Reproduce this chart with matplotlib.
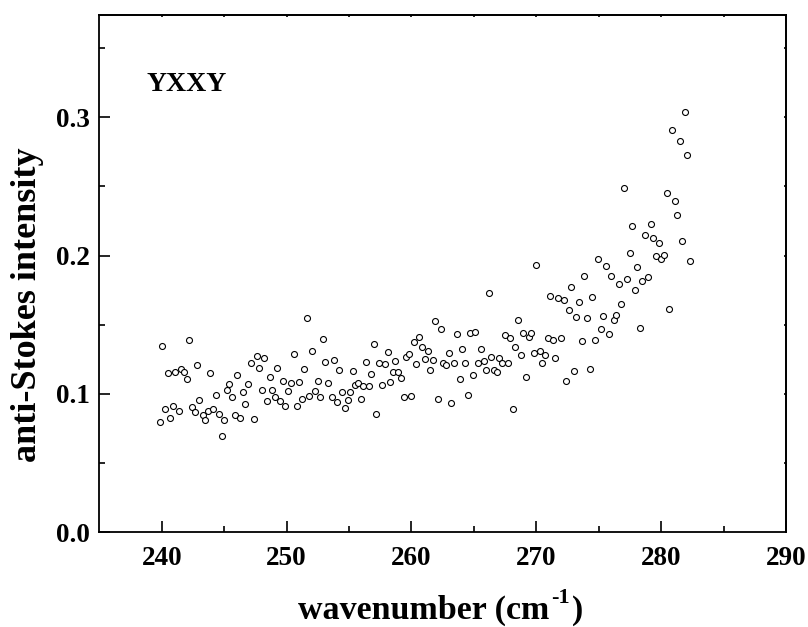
import numpy as np
import matplotlib
matplotlib.use('Agg')
import matplotlib.pyplot as plt

plt.rcParams.update({
    'font.family': ['Liberation Serif', 'DejaVu Serif'],
    'font.weight': 'bold',
})

# wavenumber (cm-1)
wavenumber = [
    239.86, 240.02, 240.24, 240.5, 240.7, 240.93, 241.1, 241.36, 241.55, 241.76,
    242.0, 242.2, 242.43, 242.64, 242.85, 243.0, 243.3, 243.5, 243.7, 243.9,
    244.1, 244.35, 244.6, 244.8, 245.0, 245.2, 245.4, 245.6, 245.85, 246.06,
    246.3, 246.5, 246.7, 246.9, 247.15, 247.4, 247.6, 247.8, 248.0, 248.2,
    248.4, 248.65, 248.86, 249.1, 249.26, 249.5, 249.7, 249.9, 250.14, 250.36,
    250.58, 250.8, 251.0, 251.2, 251.4, 251.64, 251.8, 252.0, 252.3, 252.5,
    252.7, 252.9, 253.1, 253.35, 253.6, 253.8, 254.0, 254.2, 254.45, 254.7,
    254.9, 255.1, 255.3, 255.5, 255.7, 255.95, 256.15, 256.4, 256.6, 256.8,
    257.0, 257.2, 257.4, 257.65, 257.9, 258.1, 258.3, 258.5, 258.7, 258.9,
    259.15, 259.4, 259.6, 259.8, 260.0, 260.2, 260.4, 260.6, 260.86, 261.1,
    261.3, 261.5, 261.7, 261.9, 262.1, 262.36, 262.56, 262.8, 263.0, 263.2,
    263.4, 263.64, 263.85, 264.06, 264.28, 264.5, 264.7, 264.9, 265.1, 265.3,
    265.56, 265.8, 266.0, 266.2, 266.4, 266.6, 266.85, 267.05, 267.27, 267.5,
    267.7, 267.9, 268.1, 268.3, 268.55, 268.76, 268.97, 269.2, 269.4, 269.6,
    269.8, 270.0, 270.26, 270.47, 270.69, 270.9, 271.1, 271.3, 271.5, 271.75,
    271.97, 272.2, 272.4, 272.6, 272.8, 273.0, 273.2, 273.4, 273.65, 273.8,
    274.08, 274.3, 274.5, 274.7, 274.94, 275.15, 275.36, 275.6, 275.8, 276.0,
    276.2, 276.4, 276.6, 276.8, 277.04, 277.26, 277.47, 277.66, 277.9, 278.1,
    278.3, 278.5, 278.7, 278.97, 279.15, 279.36, 279.58, 279.8, 280.0, 280.2,
    280.43, 280.6, 280.83, 281.07, 281.27, 281.47, 281.7, 281.93, 282.1, 282.3,
]

intensity = [
    0.0793, 0.1345, 0.0892, 0.1147, 0.0824, 0.0909, 0.1160, 0.0872, 0.1176, 0.1155,
    0.1106, 0.1390, 0.0902, 0.0868, 0.1207, 0.0954, 0.0848, 0.0808, 0.0877, 0.1150,
    0.0887, 0.0993, 0.0855, 0.0696, 0.0810, 0.1030, 0.1068, 0.0980, 0.0848, 0.1135,
    0.0824, 0.1010, 0.0923, 0.1070, 0.1220, 0.0817, 0.1273, 0.1190, 0.1030, 0.1260,
    0.0947, 0.1123, 0.1030, 0.0976, 0.1190, 0.0947, 0.1090, 0.0910, 0.1020, 0.1077,
    0.1290, 0.0909, 0.1085, 0.0960, 0.1180, 0.1545, 0.0986, 0.1306, 0.1017, 0.1092,
    0.0976, 0.1398, 0.1227, 0.1080, 0.0976, 0.1246, 0.0940, 0.1169, 0.1010, 0.0894,
    0.0957, 0.1010, 0.1164, 0.1060, 0.1080, 0.0964, 0.1053, 0.1229, 0.1053, 0.1142,
    0.1357, 0.0851, 0.1224, 0.1065, 0.1217, 0.1304, 0.1087, 0.1155, 0.1234, 0.1155,
    0.1113, 0.0976, 0.1268, 0.1287, 0.0983, 0.1376, 0.1215, 0.1410, 0.1340, 0.1249,
    0.1309, 0.1171, 0.1244, 0.1526, 0.0960, 0.1466, 0.1220, 0.1208, 0.1294, 0.0935,
    0.1220, 0.1434, 0.1104, 0.1323, 0.1220, 0.0993, 0.1441, 0.1135, 0.1446, 0.1222,
    0.1326, 0.1234, 0.1171, 0.1726, 0.1268, 0.1171, 0.1157, 0.1256, 0.1224, 0.1422,
    0.1224, 0.1405, 0.0889, 0.1338, 0.1535, 0.1280, 0.1441, 0.1123, 0.1412, 0.1441,
    0.1294, 0.1931, 0.1311, 0.1222, 0.1280, 0.1403, 0.1709, 0.1388, 0.1256, 0.1692,
    0.1403, 0.1680, 0.1092, 0.1603, 0.1774, 0.1164, 0.1557, 0.1665, 0.1383, 0.1851,
    0.1545, 0.1176, 0.1702, 0.1390, 0.1974, 0.1470, 0.1564, 0.1921, 0.1432, 0.1853,
    0.1531, 0.1567, 0.1791, 0.1650, 0.2490, 0.1829, 0.2015, 0.2215, 0.1752, 0.1916,
    0.1473, 0.1815, 0.2150, 0.1844, 0.2229, 0.2124, 0.1993, 0.2090, 0.1974, 0.2003,
    0.2451, 0.1610, 0.2909, 0.2396, 0.2294, 0.2825, 0.2104, 0.3039, 0.2728, 0.1960,
]

x_ticks = [240, 250, 260, 270, 280, 290]
y_ticks = [0.0, 0.1, 0.2, 0.3]

fig = plt.figure(figsize=(8.08, 6.27), dpi=100)
ax = fig.add_axes([0.1229, 0.1515, 0.8499, 0.8246])

ax.plot(wavenumber, intensity, linestyle='none', marker='o', markersize=4.3,
        markerfacecolor='white', markeredgecolor='black', markeredgewidth=0.8)

ax.set_xlim(235, 290)
ax.set_ylim(0, 0.374)
ax.set_xticks(x_ticks)
ax.set_yticks(y_ticks)
ax.set_xticks(np.arange(245, 290, 10), minor=True)
ax.set_yticks([0.05, 0.15, 0.25, 0.35], minor=True)
ax.set_yticklabels(['%.1f' % v for v in y_ticks])

for s in ax.spines.values():
    s.set_linewidth(1.3)

ax.tick_params(which='major', direction='in', length=8, width=1.2, labelsize=19.5)
ax.tick_params(axis='x', which='major', pad=10)
ax.tick_params(axis='y', which='major', pad=7)
ax.tick_params(which='minor', direction='in', length=4.3, width=1.2)

# tiny ticks on top and right
top = ax.secondary_xaxis('top')
top.set_xticks(list(range(240, 291, 5)))
top.tick_params(direction='in', length=1.5, width=1.2, labeltop=False)
top.spines['top'].set_linewidth(1.3)
right = ax.secondary_yaxis('right')
right.set_yticks([0.05, 0.1, 0.15, 0.2, 0.25, 0.3, 0.35])
right.tick_params(direction='in', length=1.5, width=1.2, labelright=False)
right.spines['right'].set_linewidth(1.3)

ax.text(0.068, 0.853, 'YXXY', transform=ax.transAxes, fontsize=20,
        fontweight='bold', va='baseline', ha='left')

fig.text(28 / 808, 1 - 305 / 627, 'anti-Stokes intensity', rotation=90,
         fontsize=26, fontweight='bold', ha='center', va='center')

# x label built from pieces so the superscript keeps a plain hyphen
t1 = fig.text(298 / 808, 1 - 619 / 627, 'wavenumber (cm', fontsize=24.5,
              fontweight='bold', ha='left', va='baseline')
t2 = ax.annotate('-1', xy=(1, 1), xycoords=t1, xytext=(1, 5),
                 textcoords='offset points', fontsize=16, fontweight='bold',
                 ha='left', va='top', annotation_clip=False)
ax.annotate(')', xy=(1, 0), xycoords=(t2, t1), xytext=(1.5, 0),
            textcoords='offset points', fontsize=24.5, fontweight='bold',
            ha='left', va='bottom', annotation_clip=False)

fig.savefig('out.png', dpi=100)
